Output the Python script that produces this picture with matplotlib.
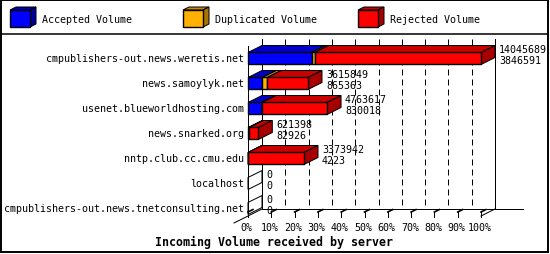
#!/usr/bin/python3

import matplotlib
matplotlib.use("Agg")
import matplotlib.pyplot as plt
from matplotlib.patches import Polygon, Rectangle

#servers and volumes
servers = [
    "cmpublishers-out.news.weretis.net",
    "news.samoylyk.net",
    "usenet.blueworldhosting.com",
    "news.snarked.org",
    "nntp.club.cc.cmu.edu",
    "localhost",
    "cmpublishers-out.news.tnetconsulting.net",
]
total_volume = [14045689, 3615849, 4763617, 621398, 3373942, 0, 0]
accepted_volume = [3846591, 865363, 830018, 82926, 4223, 0, 0]
duplicated_volume = [180000, 300000, 15000, 0, 0, 0, 0]

series_names = ["Accepted Volume", "Duplicated Volume", "Rejected Volume"]
tick_values = [0, 10, 20, 30, 40, 50, 60, 70, 80, 90, 100]
tick_labels = ["0%", "10%", "20%", "30%", "40%", "50%", "60%", "70%", "80%", "90%", "100%"]
title = "Incoming Volume received by server"

#front, top, side colors
colors = [
    ("#0000ff", "#0000c8", "#0000a0"),
    ("#ffb000", "#c88a00", "#a87400"),
    ("#ff0000", "#c80000", "#a80000"),
]

#pixel geometry
W = 550
H = 255
x0px = 248.
pxpc = 2.33
row0px = 59.5
rowpx = 25.
dxpx = 14.
dypx = -7.
hpx = 6.

dx = dxpx/pxpc
dy = dypx/rowpx
h = hpx/rowpx
lw = 0.72

mono = "DejaVu Sans Mono"
fs = 7.2

#_____________________________________________________________________________
def main():

    fig = plt.figure(figsize=(W/100., H/100.), dpi=100)

    #frame, legend and title in pixel coordinates
    lax = fig.add_axes([0, 0, 1, 1], zorder=0)
    lax.set_xlim(0, W)
    lax.set_ylim(H, 0)
    lax.axis("off")
    make_frame(lax)

    #chart axes
    ax = fig.add_axes([0, 0, 1, 1], zorder=1)
    ax.patch.set_visible(False)
    ax.set_xlim(-x0px/pxpc, (W-x0px)/pxpc)
    ax.set_ylim((H-row0px)/rowpx, -row0px/rowpx)
    ax.axis("off")

    make_walls(ax)
    make_bars(ax)

    fig.savefig("out.png", dpi=100)
    plt.close()

#main

#_____________________________________________________________________________
def make_frame(lax):

    lax.add_patch(Rectangle((1, 1), W-3, H-3, fill=False, ec="black", lw=1.4))
    lax.plot([1, W-2], [34.5, 34.5], color="black", lw=1.1)

    bx = [10, 183, 358]
    for i in range(3):
        cube(lax, bx[i], 11, 20, 17, 6, -3, colors[i])
        lax.text(bx[i]+32, 20, series_names[i], family=mono, fontsize=fs,
                 va="center", ha="left")

    lax.text(274, 242, title, family=mono, fontsize=8.4, fontweight="bold",
             va="center", ha="center")

#make_frame

#_____________________________________________________________________________
def cube(lax, x, y, w, hh, ddx, ddy, col):

    front, top, side = col
    lax.add_patch(Polygon([(x, y), (x+w, y), (x+w+ddx, y+ddy), (x+ddx, y+ddy)],
                          closed=True, fc=top, ec="black", lw=lw))
    lax.add_patch(Polygon([(x+w, y), (x+w, y+hh), (x+w+ddx, y+hh+ddy), (x+w+ddx, y+ddy)],
                          closed=True, fc=side, ec="black", lw=lw))
    lax.add_patch(Rectangle((x, y), w, hh, fc=front, ec="black", lw=1.0))

#cube

#_____________________________________________________________________________
def make_walls(ax):

    ytop = (40-row0px)/rowpx
    yback = (210-row0px)/rowpx
    yfront = yback - dy

    #back wall grid
    for v in tick_values[1:-1]:
        ax.plot([v+dx, v+dx], [ytop, yback], color="black", lw=lw,
                dashes=(6, 4), zorder=1)
    ax.plot([dx, dx], [ytop, yback], color="black", lw=lw, zorder=1)
    ax.plot([100+dx, 100+dx], [ytop, yback], color="black", lw=lw, zorder=1)

    #floor lines
    ax.plot([dx, 118], [yback, yback], color="black", lw=lw, zorder=1)
    ax.plot([-dx, dx], [yfront - dy, yback], color="black", lw=lw, zorder=1)
    ax.plot([100, 100+dx], [yfront, yback], color="black", lw=lw, zorder=1)

    #front axis
    ax.plot([0, 0], [ytop - dy, yfront], color="black", lw=lw, zorder=4)

    #ticks and labels
    ylab = (228-row0px)/rowpx
    for v, lab in zip(tick_values, tick_labels):
        ax.plot([v, v], [yfront - 0.16, yfront + 0.04], color="black", lw=lw, zorder=2)
        ax.plot([v, v+0.35*dx], [yfront - 0.16, yfront - 0.16 + 0.35*dy],
                color="black", lw=1.2, zorder=2)
        ax.text(v - 0.5, ylab, lab, family=mono, fontsize=fs, va="center", ha="center")

#make_walls

#_____________________________________________________________________________
def make_bars(ax):

    vmax = float(max(total_volume))

    for i in range(len(servers)):

        y = float(i)
        rej = total_volume[i] - accepted_volume[i] - duplicated_volume[i]
        vals = [accepted_volume[i], duplicated_volume[i], rej]

        xa = 0.
        for j in range(3):
            if vals[j] <= 0: continue
            xb = xa + 100.*vals[j]/vmax
            seg3d(ax, xa, xb, y, colors[j])
            xa = xb

        if total_volume[i] == 0:
            ax.add_patch(Polygon([(0, y-h), (0, y+h), (dx, y+h+dy), (dx, y-h+dy)],
                                 closed=True, fill=False, ec="black", lw=lw, zorder=3))

        xl = 100.*total_volume[i]/vmax + dx + 4/pxpc
        ax.text(xl, y - 9.5/rowpx, str(total_volume[i]), family=mono, fontsize=fs,
                va="center", ha="left", zorder=5)
        ax.text(xl, y + 1.5/rowpx, str(accepted_volume[i]), family=mono, fontsize=fs,
                va="center", ha="left", zorder=5)

        ax.text(-4/pxpc, y, servers[i], family=mono, fontsize=fs,
                va="center", ha="right")

#make_bars

#_____________________________________________________________________________
def seg3d(ax, xa, xb, y, col):

    front, top, side = col
    ax.add_patch(Polygon([(xa, y-h), (xb, y-h), (xb+dx, y-h+dy), (xa+dx, y-h+dy)],
                         closed=True, fc=top, ec="black", lw=lw, zorder=3))
    ax.add_patch(Polygon([(xb, y-h), (xb, y+h), (xb+dx, y+h+dy), (xb+dx, y-h+dy)],
                         closed=True, fc=side, ec="black", lw=lw, zorder=3))
    ax.add_patch(Rectangle((xa, y-h), xb-xa, 2*h, fc=front, ec="black", lw=1.0, zorder=3))

#seg3d

#_____________________________________________________________________________
if __name__ == "__main__":

    main()
